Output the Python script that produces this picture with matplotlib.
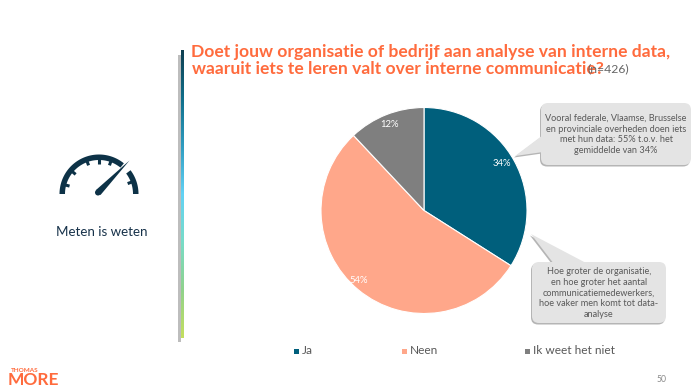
import numpy as np
import matplotlib
matplotlib.use("Agg")
import matplotlib.pyplot as plt
from matplotlib.patches import FancyBboxPatch, Polygon, Wedge, Rectangle, Circle
from matplotlib.colors import LinearSegmentedColormap

categories = ["Ja", "Neen", "Ik weet het niet"]
values = [34, 54, 12]
colors = ["#005F7C", "#FFA78A", "#7F7F7F"]
title_lines = ["Doet jouw organisatie of bedrijf aan analyse van interne data,",
               "waaruit iets te leren valt over interne communicatie?"]
n_label = "(n=426)"
note_top = "Vooral federale, Vlaamse, Brusselse\nen provinciale overheden doen iets\nmet hun data: 55% t.o.v. het\ngemiddelde van 34%"
note_bottom = "Hoe groter de organisatie,\nen hoe groter het aantal\ncommunicatiemedewerkers,\nhoe vaker men komt tot data-\nanalyse"

plt.rcParams["font.family"] = ["Lato", "DejaVu Sans"]
W, H = 700, 386
fig = plt.figure(figsize=(7, 3.86), dpi=100, facecolor="white")
bg = fig.add_axes([0, 0, 1, 1])
bg.set_xlim(0, W); bg.set_ylim(H, 0); bg.axis("off")

# title
bg.text(431, 52, title_lines[0], ha="center", va="center", fontsize=12.6,
        fontweight="bold", color="#FF6B3D")
t2 = bg.text(398, 68.5, title_lines[1], ha="center", va="center", fontsize=12.6,
        fontweight="bold", color="#FF6B3D")
bg.text(608, 69, n_label, ha="center", va="center", fontsize=8.8, color="#666666")

# divider with shadow and gradient
bg.add_patch(Rectangle((177.5, 55), 3, 287, fc="#BDBDBD", ec="none"))
cmap = LinearSegmentedColormap.from_list("bar", ["#0F3F50", "#0F6E8A", "#2F9CC0", "#62D2F5",
                                                 "#78DCC8", "#8FD28C", "#C4DF5E"])
grad = np.linspace(0, 1, 256).reshape(-1, 1)
bg.imshow(grad, cmap=cmap, extent=(181.2, 183.8, 338, 50), aspect="auto", zorder=3)
bg.set_xlim(0, W); bg.set_ylim(H, 0)

# gauge icon
navy = "#0D3247"
cx, cy = 99, 194
for a1, a2 in [(0, 37), (51, 180)]:
    bg.add_patch(Wedge((cx, -cy), 39.5, a1, a2, width=5.5, fc=navy, ec="none",
                       transform=bg.transData + matplotlib.transforms.Affine2D()) if False else
                 Polygon(np.r_[
                     np.c_[cx + 39.5*np.cos(np.radians(np.linspace(a1, a2, 60))),
                           cy - 39.5*np.sin(np.radians(np.linspace(a1, a2, 60)))],
                     np.c_[cx + 34*np.cos(np.radians(np.linspace(a2, a1, 60))),
                           cy - 34*np.sin(np.radians(np.linspace(a2, a1, 60)))]],
                     closed=True, fc=navy, ec="none"))
for a in [20, 70, 90, 110, 140, 165]:
    r = np.radians(a)
    bg.plot([cx + 35*np.cos(r), cx + 30.5*np.cos(r)], [cy - 35*np.sin(r), cy - 30.5*np.sin(r)],
            color=navy, lw=2.2, solid_capstyle="butt")
bg.add_patch(Polygon([(129.5, 160.5), (100.5, 195), (96, 190)], closed=True, fc=navy, ec="none"))
bg.add_patch(Circle((98, 192.5), 3, fc=navy, ec="none"))
bg.text(101.5, 232, "Meten is weten", ha="center", va="center", fontsize=9.6, color="#17324A")

# logo
bg.text(24.5, 370.5, "THOMAS", ha="center", va="center", fontsize=4.6, fontweight="bold", color="#FF6B3D")
bg.text(33, 380, "MORE", ha="center", va="center", fontsize=12.5, fontweight="bold", color="#FF6B3D")

# callouts
def callout(x0, y0, x1, y1, tail, txt, cy_txt):
    for dx, dy, fc, z in [(-1, 1.5, "#B5B5B5", 2), (0, 0, "#E4E4E4", 3)]:
        bg.add_patch(FancyBboxPatch((x0+dx+6, y0+dy+6), x1-x0-12, y1-y0-12,
                                    boxstyle="round,pad=6,rounding_size=7", fc=fc, ec="none", zorder=z))
        bg.add_patch(Polygon([(px+dx, py+dy) for px, py in tail], closed=True, fc=fc, ec="none", zorder=z))
    bg.text((x0+x1)/2, cy_txt, txt, ha="center", va="center", fontsize=6.6, color="#595959",
            linespacing=1.28, zorder=4)

callout(541, 103, 691, 165, [(515, 156), (543, 135), (543, 152)], note_top, 134.5)
callout(532, 262, 666, 323, [(531, 234), (554, 264), (588, 264)], note_bottom, 293)

# pie
pie_ax = fig.add_axes([(424-105)/W, 1-(210.5+105)/H, 210/W, 210/H])
wedges, _ = pie_ax.pie(values, colors=colors, startangle=90, counterclock=False, radius=103/105,
                       wedgeprops=dict(edgecolor="white", linewidth=0.8))
pie_ax.set_xlim(-1, 1); pie_ax.set_ylim(-1, 1)
label_pos = [(0.745, 0.445), (-0.62, -0.67), (-0.33, 0.82)]
for v, (lx, ly) in zip(values, label_pos):
    pie_ax.text(lx, ly, f"{v}%", ha="center", va="center", fontsize=6.8, color="white")

# legend
for name, c, sx, tx in zip(categories, colors, [296.5, 404, 527], [302, 410, 533]):
    bg.add_patch(Rectangle((sx-2.5, 348.5), 5, 5, fc=c, ec="none"))
    bg.text(tx, 351, name, ha="left", va="center", fontsize=8.6, color="#595959")

bg.text(667, 380, "50", ha="right", va="center", fontsize=6.2, color="#8A8A8A")
fig.savefig("out.png", dpi=100)
